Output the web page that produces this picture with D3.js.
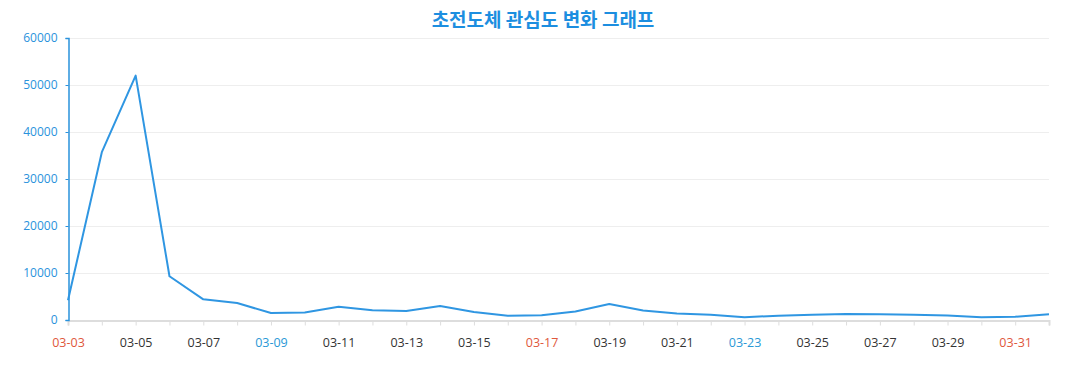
<!DOCTYPE html>
<html>
<head>
<meta charset="utf-8">
<script src="https://cdn.jsdelivr.net/npm/d3@7"></script>
<style>
  body { margin: 0; background: #fff; }
  svg text { font-family: "Open Sans", "Noto Sans", sans-serif; }
</style>
</head>
<body>
<script>
// interest in superconductor, daily counts
const dates = ['03-03','03-04','03-05','03-06','03-07','03-08','03-09','03-10','03-11','03-12',
               '03-13','03-14','03-15','03-16','03-17','03-18','03-19','03-20','03-21','03-22',
               '03-23','03-24','03-25','03-26','03-27','03-28','03-29','03-30','03-31','04-01'];
const counts = [4200, 35700, 52000, 9300, 4400, 3600, 1500, 1600, 2800, 2100,
                1900, 3000, 1700, 900, 1000, 1800, 3400, 2000, 1400, 1100,
                600, 900, 1100, 1300, 1200, 1100, 950, 600, 700, 1200];
const yTicks = [0, 10000, 20000, 30000, 40000, 50000, 60000];
const redDates = ['03-03', '03-17', '03-31'];
const blueDates = ['03-09', '03-23'];

const width = 1077, height = 390;
const margin = {top: 38, right: 28, bottom: 70, left: 68};

const svg = d3.select('body').append('svg')
    .attr('width', width)
    .attr('height', height);

const x = d3.scalePoint()
    .domain(dates)
    .range([margin.left, width - margin.right]);

const y = d3.scaleLinear()
    .domain([0, 60000])
    .range([height - margin.bottom, margin.top]);

// title
svg.append('text')
    .attr('x', 543)
    .attr('y', 27)
    .attr('text-anchor', 'middle')
    .style('font-family', '"Noto Sans CJK KR", sans-serif')
    .style('font-size', '19px')
    .style('font-weight', 'bold')
    .attr('fill', '#1c8ee0')
    .text('초전도체 관심도 변화 그래프');

// grid
svg.append('g')
    .selectAll('line')
    .data(yTicks.slice(1))
    .join('line')
    .attr('x1', margin.left)
    .attr('x2', width - margin.right)
    .attr('y1', d => y(d) + 0.5)
    .attr('y2', d => y(d) + 0.5)
    .attr('stroke', '#eeeeee');

// x axis
const xAxis = svg.append('g')
    .attr('transform', `translate(0,${y(0) + 0.5})`)
    .call(d3.axisBottom(x).tickSize(5).tickPadding(13)
        .tickFormat((d, i) => i % 2 === 0 ? d : ''));
xAxis.select('.domain').attr('stroke', '#dddddd').attr('stroke-width', 2);
xAxis.selectAll('.tick line').attr('stroke', '#dddddd');
xAxis.selectAll('.tick text')
    .style('font-size', '12.5px')
    .attr('fill', d => redDates.includes(d) ? '#e0573c' : blueDates.includes(d) ? '#2a98d6' : '#333');

// y axis
const yAxis = svg.append('g')
    .attr('transform', `translate(${margin.left + 0.5},0)`)
    .call(d3.axisLeft(y).tickValues(yTicks).tickSize(3).tickPadding(8).tickFormat(d3.format('d')));
yAxis.select('.domain').attr('stroke', '#2a92dc').attr('stroke-width', 1.5);
yAxis.selectAll('.tick line').attr('stroke', '#2a92dc');
yAxis.selectAll('.tick text')
    .style('font-size', '12px')
    .attr('fill', '#2a92dc');

// line
const line = d3.line()
    .x((d, i) => x(dates[i]))
    .y(d => y(d));

svg.append('path')
    .datum(counts)
    .attr('d', line)
    .attr('fill', 'none')
    .attr('stroke', '#2f96e2')
    .attr('stroke-width', 2)
    .attr('stroke-linejoin', 'round');
</script>
</body>
</html>
